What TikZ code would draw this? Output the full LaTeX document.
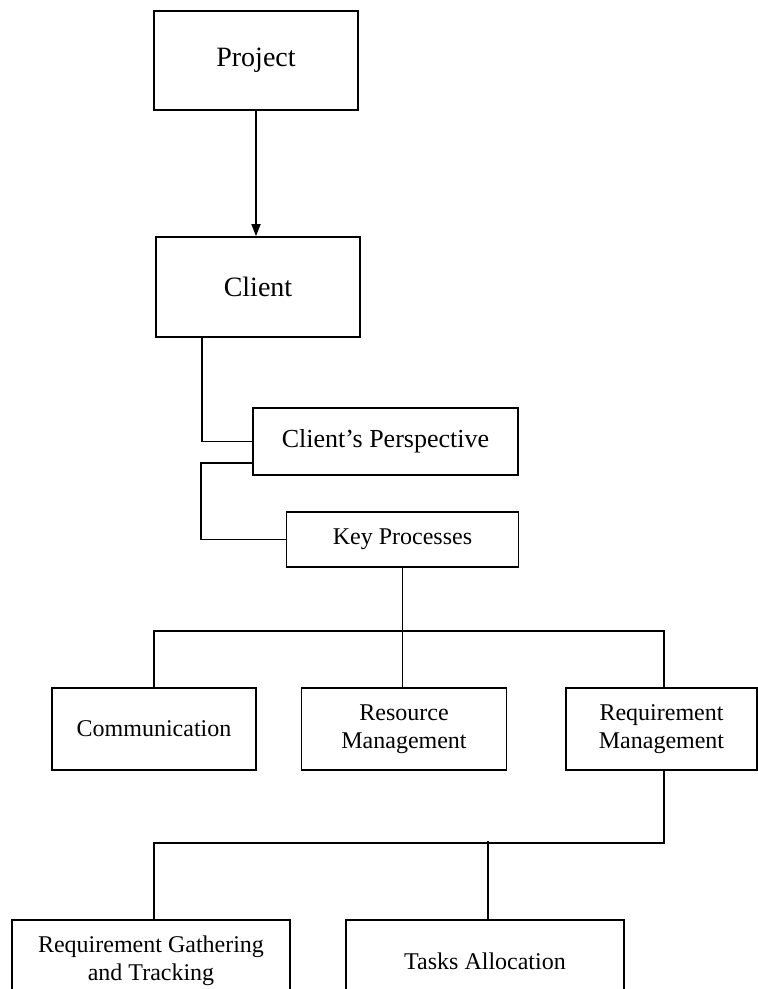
\documentclass[tikz,border=0pt]{standalone}
\usepackage{fontspec}
\setmainfont{Liberation Serif}
\usetikzlibrary{arrows.meta}
\begin{document}
\begin{tikzpicture}[x=1pt,y=-1pt,
  box/.style={draw, line width=1.9pt, rectangle, inner sep=0pt, align=center},
  link/.style={line width=1.9pt},
  big/.style={font=\fontsize{28}{32}\selectfont},
  mid/.style={font=\fontsize{26}{30}\selectfont},
  small/.style={font=\fontsize{24}{28}\selectfont}]
\useasboundingbox (0,0) rectangle (758,989);
\clip (0,0) rectangle (758,989);

% top chain
\node[box,big,minimum width=204pt,minimum height=99pt] (proj) at (256,60.5) {Project};
\node[box,big,minimum width=204pt,minimum height=100pt] (client) at (258,287) {Client};
\node[box,mid,minimum width=265pt,minimum height=67pt] (cp) at (385.5,441.5) {Client’s Perspective};
\node[box,small,minimum width=232pt,minimum height=55pt] (kp) at (402.5,539.5) {Key Processes};

% key processes
\node[box,small,minimum width=204pt,minimum height=82pt] (comm) at (154,729) {Communication};
\node[box,small,minimum width=205pt,minimum height=82pt] (res) at (404,729) {Resource\\Management};
\node[box,small,minimum width=191pt,minimum height=82pt] (reqm) at (661.5,729) {Requirement\\Management};

% requirement management
\node[box,small,minimum width=278pt,minimum height=82pt] (rgt) at (151,961) {Requirement Gathering\\and Tracking};
\node[box,small,minimum width=278pt,minimum height=82pt] (tasks) at (485,961) {Tasks Allocation};

% connectors
\draw[link,-{Triangle[length=12pt,width=9pt]}] (proj.south) -- (client.north -| proj.south);
\draw[link] ([xshift=-56pt]client.south) |- (cp.west);
\draw[link] ([yshift=-21.5pt]cp.west) -- ++(-51,0) |- (kp.west);
\draw[link] (kp.south) -- (kp.south |- res.north);
\draw[link] (comm.north) -- ++(0,-56) -| ([xshift=2.5pt]reqm.north);
\draw[link] ([xshift=2.5pt]reqm.south) -- ++(0,72) -| ([xshift=3pt]rgt.north);
\draw[link] ([xshift=3pt]tasks.north) -- ++(0,-78);
\end{tikzpicture}
\end{document}
